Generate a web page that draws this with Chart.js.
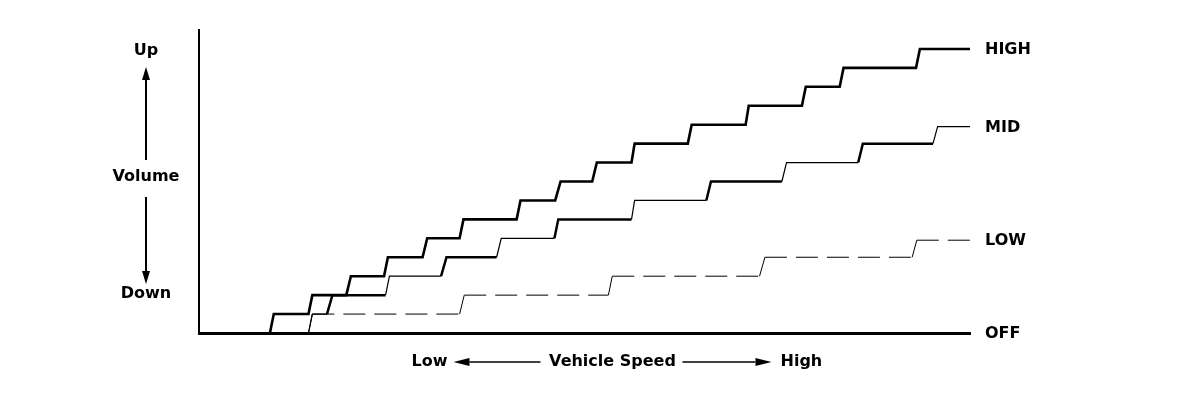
<!DOCTYPE html>
<html>
<head>
<meta charset="utf-8">
<title>Volume vs Vehicle Speed</title>
<script src="https://cdn.jsdelivr.net/npm/chart.js@4.4.1/dist/chart.umd.min.js"></script>
<style>
    html, body { margin: 0; padding: 0; background: #fff; }
    #wrap { width: 1184px; height: 394px; }
</style>
</head>
<body>
<div id="wrap"><canvas id="volumeChart"></canvas></div>
<script>
// Speed axis runs 0 (Low) .. 100 (High), volume in steps 0 .. 16
const seriesNames = ['HIGH', 'MID', 'LOW', 'OFF'];

const highSpeed = [9.2, 9.7, 14.2, 14.7, 19.1, 19.7, 24.0, 24.5, 29.0, 29.6, 33.8, 34.3, 41.2, 41.7, 46.2, 46.9,
    51.0, 51.6, 56.1, 56.5, 63.4, 63.9, 70.9, 71.3, 78.2, 78.7, 83.1, 83.6, 93.0, 93.5, 100];
const highLevel = [0, 1, 1, 2, 2, 3, 3, 4, 4, 5, 5, 6, 6, 7, 7, 8, 8, 9, 9, 10, 10, 11, 11, 12, 12, 13, 13, 14, 14, 15, 15];

const midSpeed = [14.2, 14.7, 16.6, 17.3, 24.2, 24.7, 31.4, 32.1, 38.6, 39.2, 46.1, 46.6, 56.1, 56.5,
    65.8, 66.4, 75.6, 76.2, 85.5, 86.1, 95.2, 95.8, 100];
const midLevel = [0, 1, 1, 2, 2, 3, 3, 4, 4, 5, 5, 6, 6, 7, 7, 8, 8, 9, 9, 10, 10, 10.9, 10.9];

const lowSpeed = [14.2, 14.7, 33.8, 34.4, 53.1, 53.6, 72.7, 73.4, 92.5, 93.1, 100];
const lowLevel = [0, 1, 1, 2, 2, 3, 3, 4, 4, 4.9, 4.9];

// level where each name sits on the right
const labelLevel = [15, 10.9, 4.9, 0];

const boldFont = 'bold 16px "DejaVu Sans"';

function toPoints(xs, ys) {
    return xs.map((x, i) => ({ x: x, y: ys[i] }));
}

// arrow helper, tip at (x2, y2)
function arrow(ctx, x1, y1, x2, y2, head, half) {
    const ang = Math.atan2(y2 - y1, x2 - x1);
    const bx = x2 - Math.cos(ang) * head;
    const by = y2 - Math.sin(ang) * head;
    ctx.beginPath();
    ctx.moveTo(x1, y1);
    ctx.lineTo(bx, by);
    ctx.stroke();
    ctx.beginPath();
    ctx.moveTo(x2, y2);
    ctx.lineTo(bx - Math.sin(ang) * half, by + Math.cos(ang) * half);
    ctx.lineTo(bx + Math.sin(ang) * half, by - Math.cos(ang) * half);
    ctx.closePath();
    ctx.fill();
}

const labelsPlugin = {
    id: 'diagramLabels',
    afterDraw(chart) {
        const ctx = chart.ctx;
        const area = chart.chartArea;
        const yScale = chart.scales.y;
        ctx.save();
        ctx.fillStyle = '#000';
        ctx.strokeStyle = '#000';
        ctx.font = boldFont;
        ctx.textBaseline = 'middle';

        // names at the end of each line
        ctx.textAlign = 'left';
        seriesNames.forEach((name, i) => {
            ctx.fillText(name, area.right + 15, yScale.getPixelForValue(labelLevel[i]) + 1);
        });

        // Volume axis title with up/down arrows
        const vx = area.left - 53;
        ctx.textAlign = 'center';
        ctx.fillText('Up', vx, area.top + 21);
        ctx.fillText('Volume', vx, area.top + 147);
        ctx.fillText('Down', vx, area.bottom - 39);
        ctx.lineWidth = 2;
        arrow(ctx, vx, area.top + 130, vx, area.top + 37, 13, 4);
        arrow(ctx, vx, area.top + 167, vx, area.bottom - 49, 13, 4);

        // Vehicle Speed axis title
        const ty = area.bottom + 29;
        const cx = (area.left + area.right) / 2 + 28;
        ctx.fillText('Vehicle Speed', cx, ty);
        ctx.textAlign = 'right';
        ctx.fillText('Low', cx - 165, ty);
        ctx.textAlign = 'left';
        ctx.fillText('High', cx + 168, ty);
        ctx.lineWidth = 1.5;
        arrow(ctx, cx - 72, ty, cx - 159, ty, 16, 4);
        arrow(ctx, cx + 70, ty, cx + 159, ty, 16, 4);
        ctx.restore();
    }
};

const canvas = document.getElementById('volumeChart');

const volumeChart = new Chart(canvas, {
    type: 'line',
    data: {
        datasets: [
            {
                label: 'LOW',
                data: toPoints(lowSpeed, lowLevel),
                borderColor: '#000',
                borderWidth: 1,
                segment: {
                    // flats dashed, risers solid
                    borderDash: ctx => (ctx.p0DataIndex % 2 === 1 ? [22, 9] : [])
                }
            },
            {
                label: 'MID',
                data: toPoints(midSpeed, midLevel),
                borderColor: '#000',
                borderWidth: 1,
                segment: {
                    // every other step is drawn heavier
                    borderWidth: ctx => (ctx.p0DataIndex % 4 >= 2 ? 2.5 : 1.2)
                }
            },
            {
                label: 'HIGH',
                data: toPoints(highSpeed, highLevel),
                borderColor: '#000',
                borderWidth: 2.6
            }
        ]
    },
    options: {
        responsive: true,
        maintainAspectRatio: false,
        animation: false,
        events: [],
        layout: {
            padding: { left: 199, right: 214, top: 30, bottom: 61 }
        },
        elements: {
            point: { radius: 0 },
            line: { tension: 0, borderCapStyle: 'butt', borderJoinStyle: 'miter' }
        },
        plugins: {
            legend: { display: false },
            tooltip: { enabled: false }
        },
        scales: {
            x: {
                type: 'linear',
                min: 0,
                max: 100,
                grid: { display: false, drawTicks: false },
                ticks: { display: false },
                border: { display: true, color: '#000', width: 3 }
            },
            y: {
                type: 'linear',
                min: 0,
                max: 16,
                grid: { display: false, drawTicks: false },
                ticks: { display: false },
                border: { display: true, color: '#000', width: 2 }
            }
        }
    },
    plugins: [labelsPlugin]
});
</script>
</body>
</html>
